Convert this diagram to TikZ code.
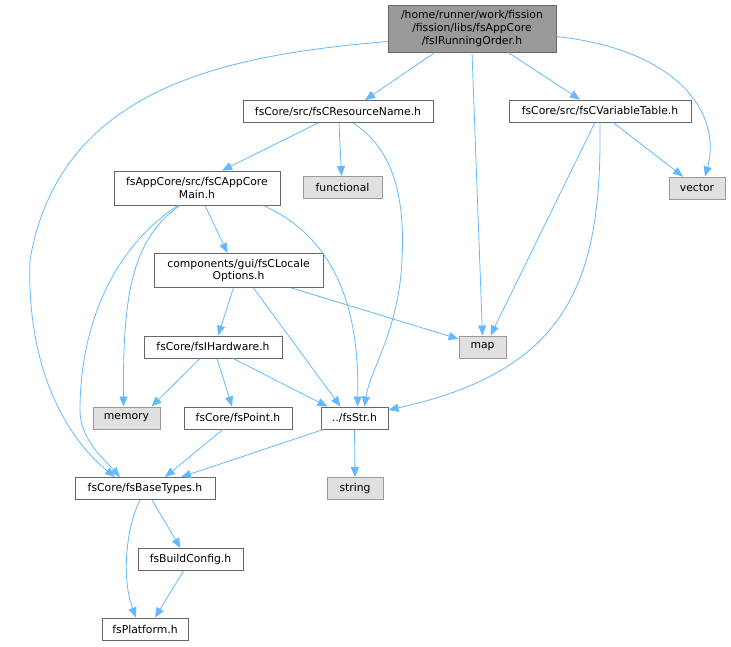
\documentclass[tikz,border=0pt]{standalone}
\usepackage{fontspec}
\setmainfont{DejaVu Sans}
\usetikzlibrary{arrows.meta}
\definecolor{edgecol}{HTML}{63B8FF}
\definecolor{bordA}{HTML}{666666}
\definecolor{bordB}{HTML}{999999}
\definecolor{fillroot}{HTML}{999999}
\definecolor{fillsys}{HTML}{E0E0E0}
\tikzset{
  base/.style={draw, line width=0.9pt, inner sep=0pt, align=center,
    font=\fontsize{10.8}{12.8}\selectfont, text=black},
  filebox/.style={base, draw=bordA, fill=white},
  sysbox/.style={base, draw=bordB, fill=fillsys},
  rootbox/.style={base, draw=bordA, fill=fillroot},
  dep/.style={draw=edgecol, line width=0.8pt, -{Triangle[length=10pt,width=8pt]}},
}
\begin{document}
\begin{tikzpicture}[x=1pt,y=-1pt]
\useasboundingbox (0,0) rectangle (731,647);
% nodes
\node[rootbox, minimum width=168pt, minimum height=47pt] (root) at (472,28.5) {/home/runner/work/fission\\/fission/libs/fsAppCore\\/fsIRunningOrder.h};
\node[filebox, minimum width=190pt, minimum height=22pt] (resname) at (338,111.5) {fsCore/src/fsCResourceName.h};
\node[filebox, minimum width=182pt, minimum height=22pt] (vartable) at (600,111) {fsCore/src/fsCVariableTable.h};
\node[sysbox, minimum width=56pt, minimum height=22pt] (vector) at (697,188) {vector};
\node[filebox, minimum width=166pt, minimum height=34pt] (appmain) at (197,188) {fsAppCore/src/fsCAppCore\\Main.h};
\node[sysbox, minimum width=79pt, minimum height=22pt] (functional) at (342.5,187.5) {functional};
\node[filebox, minimum width=169pt, minimum height=34pt] (locale) at (238.5,270.5) {components/gui/fsCLocale\\Options.h};
\node[sysbox, minimum width=47pt, minimum height=22pt] (map) at (482.5,347) {map};
\node[filebox, minimum width=138pt, minimum height=22pt] (hardware) at (213,347) {fsCore/fsIHardware.h};
\node[sysbox, minimum width=67pt, minimum height=22pt] (memory) at (126.5,418) {memory};
\node[filebox, minimum width=108pt, minimum height=22pt] (point) at (238,418) {fsCore/fsPoint.h};
\node[filebox, minimum width=67pt, minimum height=22pt] (str) at (354.5,418) {../fsStr.h};
\node[filebox, minimum width=140pt, minimum height=22pt] (basetypes) at (145,488.5) {fsCore/fsBaseTypes.h};
\node[sysbox, minimum width=56pt, minimum height=22pt] (string) at (355,488.5) {string};
\node[filebox, minimum width=105pt, minimum height=22pt] (buildconfig) at (190.5,559.5) {fsBuildConfig.h};
\node[filebox, minimum width=86pt, minimum height=22pt] (platform) at (145,629) {fsPlatform.h};
% edges
\draw[dep] ([xshift=-37pt]root.south) -- ([xshift=27pt]resname.north);
\draw[dep] (root.south) -- (map.north);
\draw[dep] ([xshift=36pt]root.south) -- ([xshift=-20pt]vartable.north);
\draw[dep] ([yshift=-8pt]root.east) .. controls (680,50) and (722,115) .. ([xshift=8pt]vector.north);
\draw[dep] ([yshift=-13pt]root.west) .. controls (230,55) and (60,85) .. (30,260) .. controls (26,380) and (75,445) .. ([xshift=-30pt]basetypes.north);
\draw[dep] ([xshift=-20pt]resname.south) -- ([xshift=25pt]appmain.north);
\draw[dep] ([xshift=1pt]resname.south) -- ([xshift=-1pt]functional.north);
\draw[dep] ([xshift=15pt]resname.south) .. controls (395,150) and (405,200) .. (402,260) .. controls (399,330) and (370,370) .. ([xshift=10pt]str.north);
\draw[dep] ([xshift=-5pt]vartable.south) -- ([xshift=8pt]map.north);
\draw[dep] (vartable.south) .. controls (602,280) and (570,370) .. ([yshift=8pt]str.east);
\draw[dep] ([xshift=13pt]vartable.south) -- ([xshift=-14pt]vector.north);
\draw[dep] ([xshift=8pt]appmain.south) -- ([xshift=-11pt]locale.north);
\draw[dep] ([xshift=66pt]appmain.south) .. controls (330,235) and (360,300) .. ([xshift=3pt]str.north);
\draw[dep] ([xshift=-19pt]appmain.south) .. controls (110,250) and (80,330) .. (80,410) .. controls (80,440) and (105,460) .. ([xshift=-25pt]basetypes.north);
\draw[dep] ([xshift=-17pt]appmain.south) .. controls (130,240) and (123,300) .. ([xshift=-3pt]memory.north);
\draw[dep] ([xshift=-5pt]locale.south) -- ([xshift=5pt]hardware.north);
\draw[dep] ([xshift=15pt]locale.south) -- ([xshift=-14pt]str.north);
\draw[dep] ([xshift=53pt]locale.south) -- ([yshift=8pt]map.west);
\draw[dep] ([xshift=-13pt]hardware.south) -- ([xshift=25pt]memory.north);
\draw[dep] ([xshift=4pt]hardware.south) -- ([xshift=-6pt]point.north);
\draw[dep] ([xshift=20pt]hardware.south) -- ([xshift=-27pt]str.north);
\draw[dep] ([xshift=-15pt]point.south) -- ([xshift=20pt]basetypes.north);
\draw[dep] ([xshift=-31pt]str.south) -- ([xshift=36pt]basetypes.north);
\draw[dep] (str.south) -- (string.north);
\draw[dep] ([xshift=7pt]basetypes.south) -- ([xshift=-10pt]buildconfig.north);
\draw[dep] ([xshift=-5pt]basetypes.south) .. controls (125,530) and (122,580) .. ([xshift=-9pt]platform.north);
\draw[dep] ([xshift=-7pt]buildconfig.south) -- ([xshift=10pt]platform.north);
\end{tikzpicture}
\end{document}
